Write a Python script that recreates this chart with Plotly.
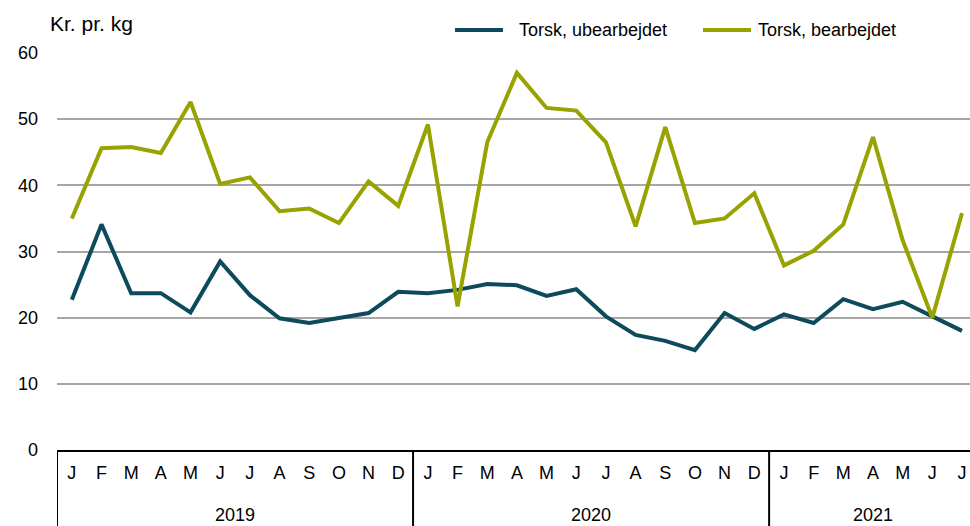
import plotly.graph_objects as go

months = ["J", "F", "M", "A", "M", "J", "J", "A", "S", "O", "N", "D"] * 2 + ["J", "F", "M", "A", "M", "J", "J"]
years = ["2019", "2020", "2021"]
year_centers = [5.5, 17.5, 27.0]
year_dividers = [-0.5, 11.5, 23.5]

series_names = ["Torsk, ubearbejdet", "Torsk, bearbejdet"]
series_colors = ["#0d4a5b", "#98a200"]
ubearbejdet = [22.7, 34.1, 23.7, 23.7, 20.8, 28.5, 23.4, 19.9, 19.2, 19.9, 20.7, 23.9,
               23.7, 24.2, 25.1, 24.9, 23.3, 24.3, 20.2, 17.4, 16.5, 15.1, 20.7, 18.3,
               20.5, 19.2, 22.8, 21.3, 22.4, 20.2, 18.0]
bearbejdet = [35.0, 45.6, 45.8, 44.9, 52.6, 40.2, 41.2, 36.1, 36.5, 34.3, 40.6, 36.9,
              49.2, 21.7, 46.5, 57.0, 51.7, 51.3, 46.5, 33.8, 48.8, 34.3, 35.0, 38.8,
              27.9, 30.1, 34.1, 47.3, 31.7, 20.0, 35.8]

x = list(range(len(months)))
FONT = "Liberation Sans, Arial, sans-serif"
FS = 18
PW, PH, L, T = 913, 397, 57, 53


def px_x(p):
    return (p - L) / PW


def px_y(p):
    return 1 + (T - p) / PH


fig = go.Figure()
for name, vals, col in zip(series_names, [ubearbejdet, bearbejdet], series_colors):
    fig.add_trace(go.Scatter(x=x, y=vals, mode="lines", name=name, showlegend=False,
                             line=dict(color=col, width=4)))

shapes = []
for d in year_dividers:
    shapes.append(dict(type="line", xref="x", yref="paper", x0=d, x1=d, y0=0, y1=-0.25,
                       line=dict(color="black", width=2)))
annotations = [dict(text=y_, x=c, xref="x", yref="paper", y=-65/397, yanchor="middle",
                    showarrow=False, font=dict(size=FS, color="black", family=FONT))
               for y_, c in zip(years, year_centers)]
annotations.append(dict(text="Kr. pr. kg", xref="paper", yref="paper", x=px_x(48), y=px_y(23),
                        xanchor="left", yanchor="middle", showarrow=False,
                        font=dict(size=21, color="black", family=FONT)))

# legend drawn at top right
leg_line_x = [455, 703]
leg_text_x = [517, 756]
for name, col, lx, tx in zip(series_names, series_colors, leg_line_x, leg_text_x):
    shapes.append(dict(type="line", xref="paper", yref="paper", x0=px_x(lx), x1=px_x(lx + 48),
                       y0=px_y(30), y1=px_y(30), line=dict(color=col, width=4)))
    annotations.append(dict(text=name, xref="paper", yref="paper", x=px_x(tx), y=px_y(30),
                            xanchor="left", yanchor="middle", showarrow=False,
                            font=dict(size=FS, color="black", family=FONT)))

fig.update_layout(
    width=970, height=526,
    margin=dict(l=L, r=0, t=T, b=76, autoexpand=False),
    plot_bgcolor="white", paper_bgcolor="white",
    font=dict(family=FONT, size=FS, color="black"),
    showlegend=False,
    shapes=shapes,
    annotations=annotations,
    xaxis=dict(range=[-0.5, 30.27], tickmode="array", tickvals=x, ticktext=months,
               showgrid=False, zeroline=False, showline=True, linecolor="black", linewidth=2,
               ticks="", ticklabelstandoff=5, tickfont=dict(size=FS)),
    yaxis=dict(range=[0, 60], tickvals=[0, 10, 20, 30, 40, 50, 60], showgrid=True,
               gridcolor="#a6a6a6", gridwidth=1.5, zeroline=False, showline=False,
               ticks="", ticklabelstandoff=18, tickfont=dict(size=FS)),
)

fig.write_html("out.html", config={"displayModeBar": False},
               post_script="document.body.style.margin='0px';document.body.style.overflow='hidden';")
